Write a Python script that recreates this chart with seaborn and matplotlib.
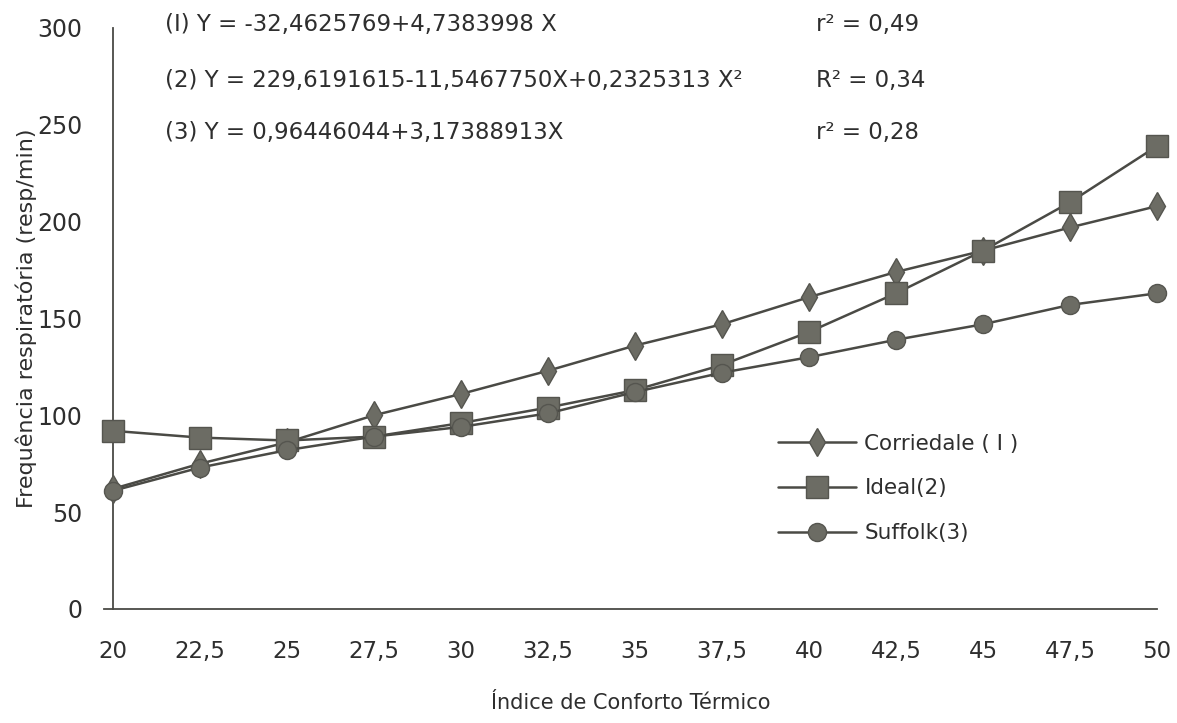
# -*- coding: utf-8 -*-
"""
Frequencia respiratoria em funcao do Indice de Conforto Termico
Racas: Corriedale, Ideal e Suffolk
"""

import pandas as pd
import numpy as np
import matplotlib
matplotlib.use("Agg")
import matplotlib.pyplot as plt
import seaborn as sns

#%%
####################################################################
########  DADOS
####################################################################

ict = [20, 22.5, 25, 27.5, 30, 32.5, 35, 37.5, 40, 42.5, 45, 47.5, 50]
corriedale = [62, 75, 86, 100, 111, 123, 136, 147, 161, 174, 185, 197, 208]
ideal = [92, 88.5, 87, 89, 96, 104, 113, 126, 143, 163, 185, 210, 239]
suffolk = [61, 73, 82, 89, 94, 101, 112, 122, 130, 139, 147, 157, 163]

racas = ["Corriedale ( I )", "Ideal(2)", "Suffolk(3)"]
marcadores = ["d", "s", "o"]
tamanhos = [14, 16, 13]

x_ticks = [20, 22.5, 25, 27.5, 30, 32.5, 35, 37.5, 40, 42.5, 45, 47.5, 50]
x_tick_labels = ["20", "22,5", "25", "27,5", "30", "32,5", "35", "37,5",
                 "40", "42,5", "45", "47,5", "50"]
y_ticks = [0, 50, 100, 150, 200, 250, 300]

equacoes = ["(I) Y = -32,4625769+4,7383998 X",
            "(2) Y = 229,6191615-11,5467750X+0,2325313 X²",
            "(3) Y = 0,96446044+3,17388913X"]
coef_det = ["r² = 0,49", "R² = 0,34", "r² = 0,28"]

# tabela longa para o seaborn
df = pd.DataFrame({
    "ICT": ict * 3,
    "FR": corriedale + ideal + suffolk,
    "raca": [racas[0]] * len(ict) + [racas[1]] * len(ict) + [racas[2]] * len(ict),
})

#%%
####################################################################
########  GRAFICO
####################################################################
sns.set_style("white")
plt.rcParams["font.family"] = ["DejaVu Sans"]

cor_linha = "#4a4a45"
cor_marca = "#6c6c64"
cor_texto = "#2e2e2e"

fig = plt.figure(figsize=(11.77, 7.23), dpi=100)
ax = fig.add_axes([0.0884, 0.1577, 0.8946, 0.8036])

for raca, m, tam in zip(racas, marcadores, tamanhos):
    sns.lineplot(data=df[df["raca"] == raca], x="ICT", y="FR", ax=ax,
                 color=cor_linha, linewidth=1.8, marker=m, markersize=tam,
                 markerfacecolor=cor_marca, markeredgecolor="#55554f",
                 markeredgewidth=1.0, label=raca, clip_on=False, zorder=3)

ax.set_xlim(19.75, 50)
ax.set_ylim(0, 300)
ax.spines["left"].set_position(("data", 20))
ax.spines["top"].set_visible(False)
ax.spines["right"].set_visible(False)
for s in ["left", "bottom"]:
    ax.spines[s].set_color(cor_linha)
    ax.spines[s].set_linewidth(1.3)

ax.set_xticks(x_ticks)
ax.set_xticklabels(x_tick_labels)
ax.set_yticks(y_ticks)
ax.tick_params(axis="x", direction="inout", length=12, width=1.3,
               color=cor_linha, labelsize=16.5, labelcolor=cor_texto, pad=16)
ax.tick_params(axis="y", direction="out", length=8, width=1.3,
               color=cor_linha, labelsize=17, labelcolor=cor_texto, pad=14)

ax.set_xlabel("Índice de Conforto Térmico", fontsize=15, color=cor_texto,
              labelpad=22)
ax.set_ylabel("Frequência respiratória (resp/min)", fontsize=16,
              color=cor_texto)
ax.yaxis.set_label_coords(-0.064, 0.5)

# equacoes de regressao
y_eq = [302, 273, 246]
for eq, r2, yy in zip(equacoes, coef_det, y_eq):
    ax.text(21.5, yy, eq, fontsize=16.5, color=cor_texto, va="center",
            ha="left")
    ax.text(40.2, yy, r2, fontsize=16.5, color=cor_texto, va="center",
            ha="left")

leg = ax.legend(loc="upper left", bbox_to_anchor=(0.622, 0.335),
                frameon=False, fontsize=15.5, handlelength=3.6,
                labelspacing=1.15, handletextpad=0.4)
for t in leg.get_texts():
    t.set_color(cor_texto)

fig.savefig("out.png", dpi=100, facecolor="white")
